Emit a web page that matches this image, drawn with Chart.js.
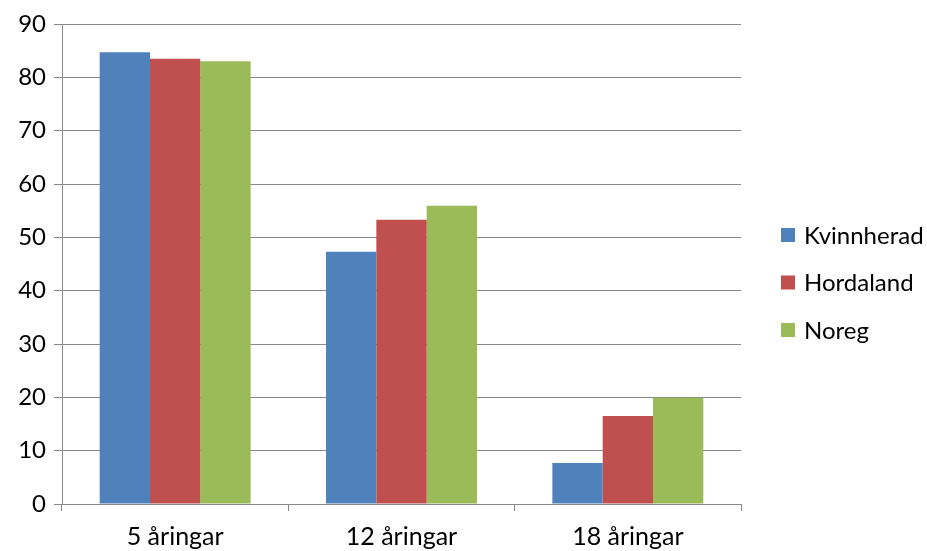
<!DOCTYPE html>
<html>
<head>
<meta charset="utf-8">
<script src="https://cdn.jsdelivr.net/npm/chart.js@4/dist/chart.umd.min.js"></script>
<style>
  html, body { margin: 0; padding: 0; background: #fff; }
  #wrap { width: 927px; height: 551px; position: relative; }
</style>
</head>
<body>
<div id="wrap"><canvas id="c" width="927" height="551"></canvas></div>
<script>
// Age groups on the x axis
const categories = ['5 åringar', '12 åringar', '18 åringar'];
// Series: share per area
const kvinnherad = [84.7, 47.3, 7.7];
const hordaland  = [83.5, 53.3, 16.5];
const noreg      = [83.0, 55.9, 19.9];
const seriesNames = ['Kvinnherad', 'Hordaland', 'Noreg'];
const seriesColors = ['#4F81BD', '#C0504D', '#9BBB59'];
// Y axis range and step
const yMin = 0, yMax = 90, yStep = 10;

const FONT = 'Lato, "Open Sans", sans-serif';
const GRID = '#898989';

// Legend drawn on the right, stacked vertically
const sideLegend = {
  id: 'sideLegend',
  afterDraw(chart) {
    const ctx = chart.ctx;
    ctx.save();
    ctx.font = '24px ' + FONT;
    ctx.textBaseline = 'middle';
    ctx.textAlign = 'left';
    chart.data.datasets.forEach((ds, i) => {
      const cy = 235 + i * 47.5;
      ctx.fillStyle = ds.backgroundColor;
      ctx.fillRect(781, cy - 7, 14, 14);
      ctx.fillStyle = '#000';
      ctx.fillText(ds.label, 804, cy + 1);
    });
    ctx.restore();
  }
};

const datasets = [kvinnherad, hordaland, noreg].map((vals, i) => ({
  label: seriesNames[i],
  data: vals,
  backgroundColor: seriesColors[i],
  borderWidth: 0,
  categoryPercentage: 0.667,
  barPercentage: 1.0
}));

new Chart(document.getElementById('c'), {
  type: 'bar',
  data: { labels: categories, datasets },
  options: {
    responsive: false,
    animation: false,
    devicePixelRatio: 1,
    layout: { padding: { top: 24, right: 186, left: 0, bottom: 0 } },
    plugins: {
      legend: { display: false },
      tooltip: { enabled: false }
    },
    scales: {
      x: {
        offset: true,
        grid: {
          offset: true,
          drawOnChartArea: false,
          drawTicks: true,
          tickLength: 7,
          color: GRID,
          lineWidth: 1
        },
        border: { display: true, color: GRID, width: 1 },
        ticks: { color: '#000', font: { family: FONT, size: 25 }, padding: 11 },
        afterFit(scale) { scale.height = 47; }
      },
      y: {
        min: yMin,
        max: yMax,
        grid: { color: GRID, lineWidth: 1, tickLength: 8, drawTicks: true },
        border: { display: true, color: GRID, width: 1 },
        ticks: { stepSize: yStep, color: '#000', font: { family: FONT, size: 24 }, padding: 8 },
        afterFit(scale) { scale.width = 62; }
      }
    }
  },
  plugins: [sideLegend]
});
</script>
</body>
</html>
